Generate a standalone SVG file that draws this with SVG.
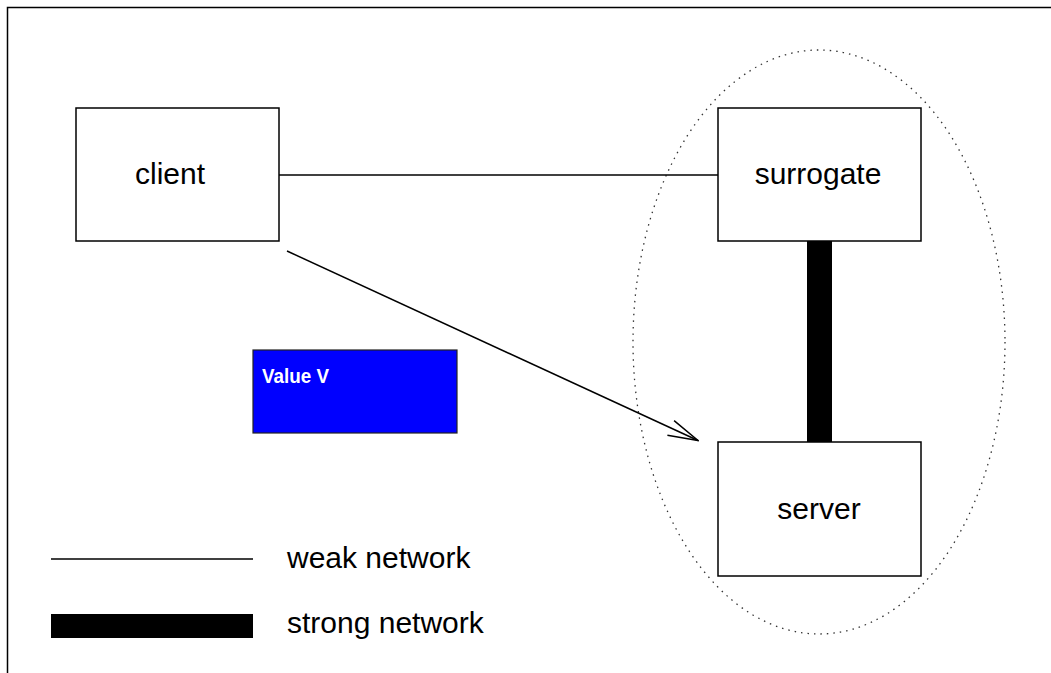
<svg xmlns="http://www.w3.org/2000/svg" width="1051" height="673" viewBox="0 0 1051 673">
  <style>
    .box { fill: #ffffff; stroke: #000000; stroke-width: 1.5; }
    .label { font-family: "Liberation Sans", Arial, Helvetica, sans-serif; font-size: 30px; fill: #000000; }
    .weak { stroke: #000000; stroke-width: 1.5; fill: none; }
    .strong { fill: #000000; }
  </style>
  <defs>
    <marker id="openArrow" viewBox="0 0 32 20" refX="31" refY="10" markerWidth="32" markerHeight="20" markerUnits="userSpaceOnUse" orient="auto">
      <path d="M1,2 L31,10 L1,18" fill="none" stroke="#000000" stroke-width="1.5"/>
    </marker>
  </defs>

  <rect width="1051" height="673" fill="#ffffff"/>

  <!-- page frame -->
  <path d="M7.5,673 V7.5 H1051" fill="none" stroke="#000000" stroke-width="1.5"/>

  <!-- dotted grouping around surrogate and server -->
  <ellipse id="strong-domain" cx="819" cy="342" rx="186" ry="292" fill="none" stroke="#333333" stroke-width="1.3" stroke-dasharray="1.5 5"/>

  <g id="connectors">
    <line class="weak" x1="279" y1="175" x2="718" y2="175"/>
    <line class="weak" x1="287" y1="251" x2="698" y2="440.5" marker-end="url(#openArrow)"/>
    <rect class="strong" x="807" y="241" width="25" height="201"/>
  </g>

  <g id="client">
    <rect class="box" x="76" y="108" width="203" height="133"/>
    <text class="label" x="170" y="184" text-anchor="middle">client</text>
  </g>

  <g id="surrogate">
    <rect class="box" x="718" y="108" width="203" height="133"/>
    <text class="label" x="818" y="184" text-anchor="middle">surrogate</text>
  </g>

  <g id="server">
    <rect class="box" x="718" y="442" width="203" height="134"/>
    <text class="label" x="819" y="519" text-anchor="middle">server</text>
  </g>

  <g id="value">
    <rect x="253" y="350" width="204" height="83" fill="#0000ff" stroke="#222222" stroke-width="1.2"/>
    <text x="262" y="383" font-family="'Liberation Sans', Arial, sans-serif" font-weight="bold" font-size="20" fill="#ffffff" textLength="67" lengthAdjust="spacingAndGlyphs">Value V</text>
  </g>

  <g id="legend">
    <line class="weak" x1="51" y1="559" x2="253" y2="559"/>
    <text class="label" x="287" y="568">weak network</text>
    <rect class="strong" x="51" y="614" width="202" height="24"/>
    <text class="label" x="287" y="633">strong network</text>
  </g>
</svg>
